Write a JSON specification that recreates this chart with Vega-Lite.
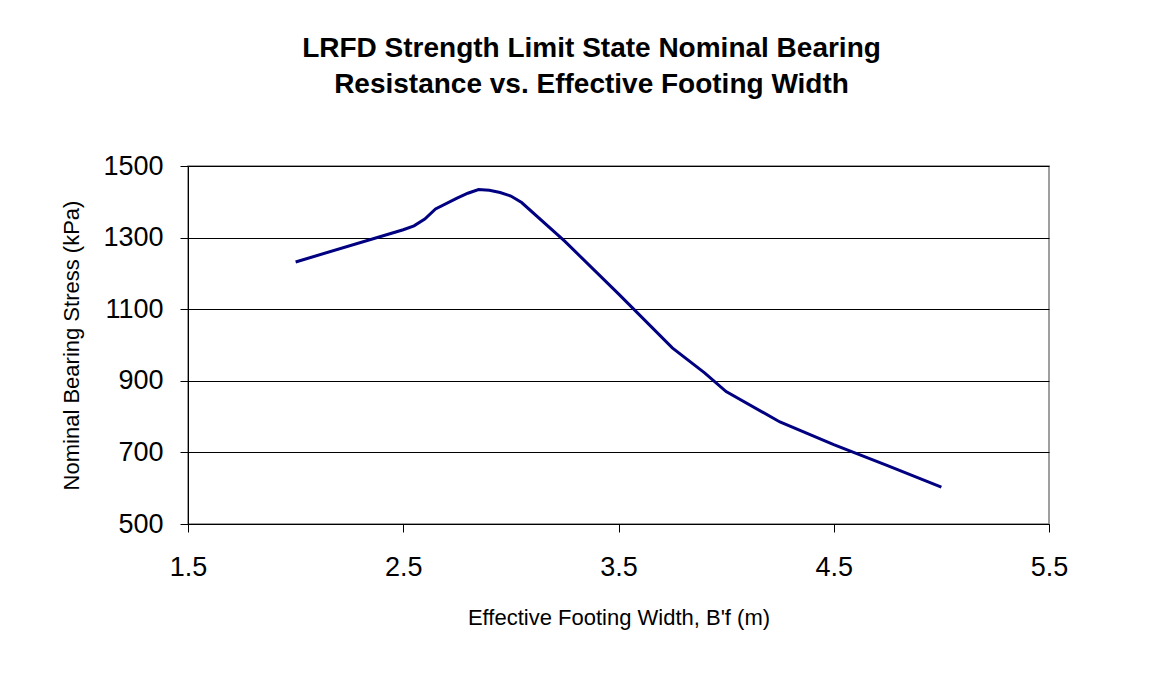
{
  "$schema": "https://vega.github.io/schema/vega-lite/v6.json",
  "autosize": {"type": "none"},
  "width": 861,
  "height": 358,
  "padding": {"left": 188, "top": 166, "right": 112, "bottom": 152},
  "background": "white",
  "title": {
    "text": ["LRFD Strength Limit State Nominal Bearing", "Resistance vs. Effective Footing Width"],
    "font": "Liberation Sans",
    "fontSize": 28,
    "fontWeight": "bold",
    "color": "black",
    "anchor": "middle",
    "frame": "group",
    "dx": -27,
    "offset": 31,
    "lineHeight": 36,
    "baseline": "alphabetic"
  },
  "config": {
    "view": {"stroke": "#808080", "strokeWidth": 1.5},
    "axis": {
      "labelFont": "Liberation Sans",
      "titleFont": "Liberation Sans",
      "labelColor": "black",
      "titleColor": "black",
      "domainColor": "black",
      "tickColor": "black",
      "gridColor": "black",
      "gridOpacity": 1,
      "titleFontWeight": "normal",
      "labelFlush": false
    }
  },
  "data": {
    "values": [
      {"b": 2.0, "q": 1232},
      {"b": 2.5, "q": 1322},
      {"b": 2.55, "q": 1333},
      {"b": 2.6, "q": 1352},
      {"b": 2.65, "q": 1380},
      {"b": 2.75, "q": 1410},
      {"b": 2.8, "q": 1424},
      {"b": 2.85, "q": 1434},
      {"b": 2.9, "q": 1432},
      {"b": 2.95, "q": 1426},
      {"b": 3.0, "q": 1416},
      {"b": 3.05, "q": 1398},
      {"b": 3.25, "q": 1290},
      {"b": 3.5, "q": 1143},
      {"b": 3.75, "q": 992},
      {"b": 3.9, "q": 922},
      {"b": 4.0, "q": 870},
      {"b": 4.25, "q": 785},
      {"b": 4.5, "q": 722},
      {"b": 4.75, "q": 663},
      {"b": 5.0, "q": 603}
    ]
  },
  "mark": {"type": "line", "color": "#000080", "strokeWidth": 3},
  "encoding": {
    "x": {
      "field": "b",
      "type": "quantitative",
      "scale": {"domain": [1.5, 5.5], "nice": false, "zero": false},
      "axis": {
        "values": [1.5, 2.5, 3.5, 4.5, 5.5],
        "format": ".1f",
        "grid": false,
        "tickSize": 8,
        "labelFontSize": 27,
        "labelPadding": 22,
        "title": "Effective Footing Width, B'f (m)",
        "titleFontSize": 22,
        "titlePadding": 27
      }
    },
    "y": {
      "field": "q",
      "type": "quantitative",
      "scale": {"domain": [500, 1500], "nice": false, "zero": false},
      "axis": {
        "values": [500, 700, 900, 1100, 1300, 1500],
        "format": "d",
        "grid": true,
        "tickSize": 8,
        "labelFontSize": 27,
        "labelPadding": 17,
        "title": "Nominal Bearing Stress (kPa)",
        "titleFontSize": 22,
        "titlePadding": 19
      }
    }
  }
}
